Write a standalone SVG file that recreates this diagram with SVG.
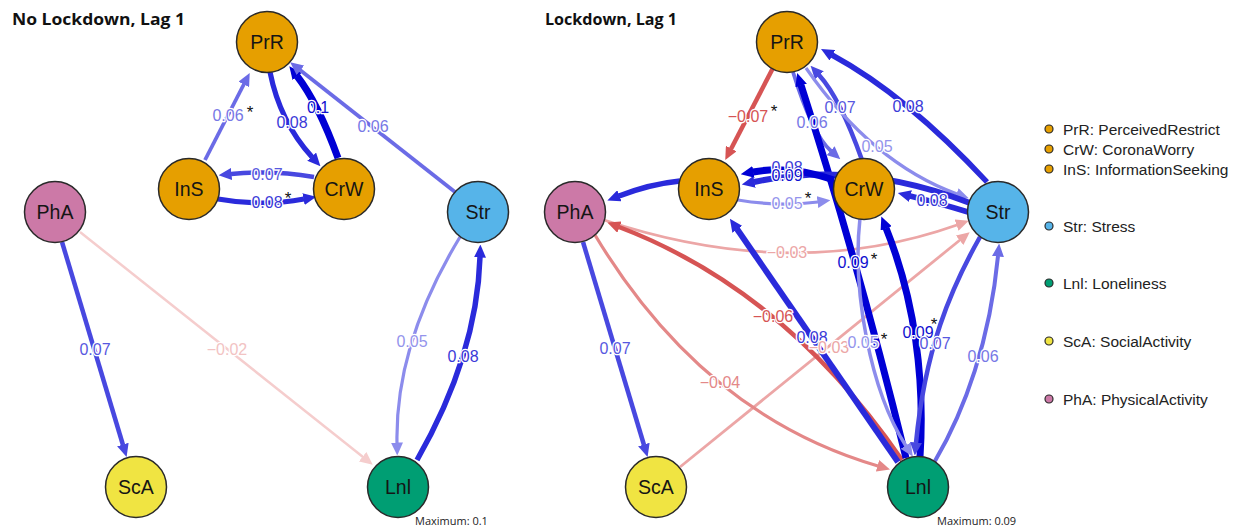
<svg xmlns="http://www.w3.org/2000/svg" width="1244" height="529" viewBox="0 0 1244 529">
<defs>
<style>
.e{fill:none;stroke-linecap:butt}
.b1{stroke:#0000D5}.b2{stroke:#2A2ADB}.b3{stroke:#4848E0}.b4{stroke:#6B6BE6}.b5{stroke:#8C8CEC}
.r1{stroke:#D65454}.r2{stroke:#E48888}.r3{stroke:#ECA6A6}.r4{stroke:#F5CDCD}
.lbl{font-family:"Liberation Sans",Arial,sans-serif;font-size:16px;text-anchor:middle;paint-order:stroke;stroke:#fff;stroke-width:2.5px;stroke-linejoin:round}
.t1{fill:#1010D0}.t2{fill:#3a3ad8}.t3{fill:#5858E0}.t4{fill:#7878E6}.t5{fill:#9494EC}
.u1{fill:#D65454}.u2{fill:#E48888}.u3{fill:#ECA6A6}.u4{fill:#F2C3C3}
.star{font-family:"Liberation Sans",Arial,sans-serif;font-size:17px;fill:#111;text-anchor:middle}
.node circle{stroke:#2a2a2a;stroke-width:1.5}
.node text{font-family:"Liberation Sans",Arial,sans-serif;font-size:19.5px;fill:#151515;text-anchor:middle}
.or{fill:#E69F00}.sb{fill:#56B4E9}.gr{fill:#009E73}.ye{fill:#F0E442}.pk{fill:#CC79A7}
.title{font-family:"Open Sans","Liberation Sans",sans-serif;font-weight:bold;font-size:16px;fill:#111}
.max{font-family:"Open Sans","Liberation Sans",sans-serif;font-size:11px;fill:#222}
.leg text{font-family:"Liberation Sans",Arial,sans-serif;font-size:15.5px;fill:#222}
.leg circle{stroke:#2a2a2a;stroke-width:1.2}
</style>
<marker id="mb1" viewBox="0 0 13 12" refX="0.5" refY="6" markerWidth="13" markerHeight="12" markerUnits="userSpaceOnUse" orient="auto"><path d="M0,0 L13,6 L0,12 z" fill="#0000D5"/></marker>
<marker id="mb2" viewBox="0 0 13 12" refX="0.5" refY="6" markerWidth="13" markerHeight="12" markerUnits="userSpaceOnUse" orient="auto"><path d="M0,0 L13,6 L0,12 z" fill="#2A2ADB"/></marker>
<marker id="mb3" viewBox="0 0 13 12" refX="0.5" refY="6" markerWidth="13" markerHeight="12" markerUnits="userSpaceOnUse" orient="auto"><path d="M0,0 L13,6 L0,12 z" fill="#4848E0"/></marker>
<marker id="mb4" viewBox="0 0 13 12" refX="0.5" refY="6" markerWidth="13" markerHeight="12" markerUnits="userSpaceOnUse" orient="auto"><path d="M0,0 L13,6 L0,12 z" fill="#6B6BE6"/></marker>
<marker id="mb5" viewBox="0 0 13 12" refX="0.5" refY="6" markerWidth="13" markerHeight="12" markerUnits="userSpaceOnUse" orient="auto"><path d="M0,0 L13,6 L0,12 z" fill="#8C8CEC"/></marker>
<marker id="mr1" viewBox="0 0 13 12" refX="0.5" refY="6" markerWidth="13" markerHeight="12" markerUnits="userSpaceOnUse" orient="auto"><path d="M0,0 L13,6 L0,12 z" fill="#D65454"/></marker>
<marker id="mr2" viewBox="0 0 13 12" refX="0.5" refY="6" markerWidth="13" markerHeight="12" markerUnits="userSpaceOnUse" orient="auto"><path d="M0,0 L13,6 L0,12 z" fill="#E48888"/></marker>
<marker id="mr3" viewBox="0 0 13 12" refX="0.5" refY="6" markerWidth="13" markerHeight="12" markerUnits="userSpaceOnUse" orient="auto"><path d="M0,0 L13,6 L0,12 z" fill="#ECA6A6"/></marker>
<marker id="mr4" viewBox="0 0 13 12" refX="0.5" refY="6" markerWidth="13" markerHeight="12" markerUnits="userSpaceOnUse" orient="auto"><path d="M0,0 L13,6 L0,12 z" fill="#F5CDCD"/></marker>
</defs>
<rect width="1244" height="529" fill="#fff"/>

<text class="title" x="12" y="25" textLength="173" lengthAdjust="spacingAndGlyphs">No Lockdown, Lag 1</text>
<text class="title" x="545" y="25" textLength="132" lengthAdjust="spacingAndGlyphs">Lockdown, Lag 1</text>

<g id="connectors">
<g id="left-edges">
<path class="e b4" stroke-width="3.8" d="M205,160 L244,84" marker-end="url(#mb4)"/>
<path class="e b2" stroke-width="5.2" d="M270,72 Q280,122 312,157" marker-end="url(#mb2)"/>
<path class="e b1" stroke-width="7" d="M338,158 Q318,103 297,76" marker-end="url(#mb1)"/>
<path class="e b4" stroke-width="3.8" d="M455,192 L300,70" marker-end="url(#mb4)"/>
<path class="e b3" stroke-width="4.5" d="M314,177 Q272,170 231,174" marker-end="url(#mb3)"/>
<path class="e b2" stroke-width="5.2" d="M218,199 Q262,207 304,199" marker-end="url(#mb2)"/>
<path class="e b3" stroke-width="4.5" d="M62,242 L123,445" marker-end="url(#mb3)"/>
<path class="e r4" stroke-width="2.5" d="M80,232 L363,457" marker-end="url(#mr4)"/>
<path class="e b5" stroke-width="3.2" d="M460,237 Q395,344 397,443" marker-end="url(#mb5)"/>
<path class="e b2" stroke-width="5.5" d="M417,460 Q477,355 480,257" marker-end="url(#mb2)"/>
</g>
<g id="right-edges">
<path class="e r1" stroke-width="4.5" d="M773,68 L731,149" marker-end="url(#mr1)"/>
<path class="e b4" stroke-width="3.8" d="M793,72 Q812,134 831,151" marker-end="url(#mb4)"/>
<path class="e b3" stroke-width="4.5" d="M862,160 Q840,98 819,75" marker-end="url(#mb3)"/>
<path class="e b2" stroke-width="5.5" d="M987,182 Q906,95 832,55" marker-end="url(#mb2)"/>
<path class="e b5" stroke-width="3.2" d="M806,68 Q872,163 957,194" marker-end="url(#mb5)"/>
<path class="e r3" stroke-width="2.8" d="M604,220 Q793,283 957,225" marker-end="url(#mr3)"/>
<path class="e r3" stroke-width="2.8" d="M680,467 L960,240" marker-end="url(#mr3)"/>
<path class="e r2" stroke-width="3.2" d="M595,235 Q703,415 878,466" marker-end="url(#mr2)"/>
<path class="e r1" stroke-width="4.5" d="M902,460 Q785,290 619,227" marker-end="url(#mr1)"/>
<path class="e b2" stroke-width="6" d="M898,462 L737,229" marker-end="url(#mb2)"/>
<path class="e b1" stroke-width="7" d="M906,458 Q857,258 801,85" marker-end="url(#mb1)"/>
<path class="e b2" stroke-width="6" d="M970,203 Q858,160 754,182" marker-end="url(#mb2)"/>
<path class="e b1" stroke-width="7" d="M834,180 Q790,165 753,172" marker-end="url(#mb1)"/>
<path class="e b5" stroke-width="3.2" d="M738,200 Q780,207 818,202" marker-end="url(#mb5)"/>
<path class="e b2" stroke-width="5.5" d="M968,212 Q935,202 910,196" marker-end="url(#mb2)"/>
<path class="e b2" stroke-width="5.5" d="M680,181 Q650,184 619,196" marker-end="url(#mb2)"/>
<path class="e b5" stroke-width="3.5" d="M860,218 C852,290 870,390 906,446" marker-end="url(#mb5)"/>
<path class="e b1" stroke-width="7" d="M920,457 C925,380 915,300 886,228" marker-end="url(#mb1)"/>
<path class="e b3" stroke-width="4.5" d="M980,237 C950,290 925,350 916,443" marker-end="url(#mb3)"/>
<path class="e b4" stroke-width="4" d="M935,461 C965,410 990,340 998,256" marker-end="url(#mb4)"/>
<path class="e b3" stroke-width="4.5" d="M583,242 L644,445" marker-end="url(#mb3)"/>
</g>
<g id="edge-labels">
<text class="lbl t4" x="228" y="121">0.06</text><text class="star" x="250" y="118">*</text>
<text class="lbl t2" x="292" y="128">0.08</text>
<text class="lbl t1" x="318" y="113">0.1</text>
<text class="lbl t4" x="373" y="132">0.06</text>
<text class="lbl t3" x="267" y="180">0.07</text>
<text class="lbl t2" x="267" y="208">0.08</text><text class="star" x="288" y="204">*</text>
<text class="lbl t3" x="95" y="355">0.07</text>
<text class="lbl u4" x="227" y="355">−0.02</text>
<text class="lbl t5" x="412" y="347">0.05</text>
<text class="lbl t2" x="463" y="362">0.08</text>

<text class="lbl u1" x="748" y="122">−0.07</text><text class="star" x="774" y="117">*</text>
<text class="lbl t4" x="812" y="128">0.06</text>
<text class="lbl t3" x="840" y="113">0.07</text>
<text class="lbl t2" x="908" y="112">0.08</text>
<text class="lbl t5" x="877" y="152">0.05</text>
<text class="lbl t2" x="787" y="173">0.08</text>
<text class="lbl t1" x="787" y="181">0.09</text>
<text class="lbl t5" x="787" y="209">0.05</text><text class="star" x="808" y="204">*</text>
<text class="lbl t2" x="932" y="206">0.08</text>
<text class="lbl u3" x="787" y="258">−0.03</text>
<text class="lbl t1" x="853" y="268">0.09</text><text class="star" x="874" y="265">*</text>
<text class="lbl u1" x="773" y="322">−0.06</text>
<text class="lbl t2" x="812" y="343">0.08</text>
<text class="lbl u3" x="829" y="353">−0.03</text>
<text class="lbl t5" x="863" y="348">0.05</text><text class="star" x="884" y="345">*</text>
<text class="lbl t1" x="918" y="338">0.09</text><text class="star" x="934" y="330">*</text>
<text class="lbl t3" x="935" y="349">0.07</text>
<text class="lbl t4" x="983" y="362">0.06</text>
<text class="lbl u2" x="720" y="388">−0.04</text>
<text class="lbl t3" x="615" y="354">0.07</text>
</g>
</g>

<g id="l-PrR" class="node"><circle class="or" cx="267" cy="42" r="30.5"/><text x="267" y="49">PrR</text></g>
<g id="l-InS" class="node"><circle class="or" cx="189" cy="189" r="30.5"/><text x="189" y="196">InS</text></g>
<g id="l-CrW" class="node"><circle class="or" cx="344" cy="189" r="30.5"/><text x="344" y="196">CrW</text></g>
<g id="l-PhA" class="node"><circle class="pk" cx="55" cy="212" r="30.5"/><text x="55" y="219">PhA</text></g>
<g id="l-Str" class="node"><circle class="sb" cx="478" cy="212" r="30.5"/><text x="478" y="219">Str</text></g>
<g id="l-ScA" class="node"><circle class="ye" cx="136" cy="487" r="30.5"/><text x="136" y="494">ScA</text></g>
<g id="l-Lnl" class="node"><circle class="gr" cx="398" cy="487" r="30.5"/><text x="398" y="494">Lnl</text></g>

<g id="r-PrR" class="node"><circle class="or" cx="787" cy="42" r="30.5"/><text x="787" y="49">PrR</text></g>
<g id="r-InS" class="node"><circle class="or" cx="709" cy="189" r="30.5"/><text x="709" y="196">InS</text></g>
<g id="r-CrW" class="node"><circle class="or" cx="864" cy="189" r="30.5"/><text x="864" y="196">CrW</text></g>
<g id="r-PhA" class="node"><circle class="pk" cx="575" cy="212" r="30.5"/><text x="575" y="219">PhA</text></g>
<g id="r-Str" class="node"><circle class="sb" cx="998" cy="212" r="30.5"/><text x="998" y="219">Str</text></g>
<g id="r-ScA" class="node"><circle class="ye" cx="656" cy="487" r="30.5"/><text x="656" y="494">ScA</text></g>
<g id="r-Lnl" class="node"><circle class="gr" cx="918" cy="487" r="30.5"/><text x="918" y="494">Lnl</text></g>

<text class="max" x="415" y="525">Maximum: 0.1</text>
<text class="max" x="937" y="525">Maximum: 0.09</text>

<g id="legend" class="leg">
<circle class="or" cx="1049" cy="129" r="4"/><text x="1063" y="134.5">PrR: PerceivedRestrict</text>
<circle class="or" cx="1049" cy="149" r="4"/><text x="1063" y="154.5">CrW: CoronaWorry</text>
<circle class="or" cx="1049" cy="169" r="4"/><text x="1063" y="174.5">InS: InformationSeeking</text>
<circle class="sb" cx="1049" cy="226" r="4"/><text x="1063" y="231.5">Str: Stress</text>
<circle class="gr" cx="1049" cy="283" r="4"/><text x="1063" y="288.5">Lnl: Loneliness</text>
<circle class="ye" cx="1049" cy="341" r="4"/><text x="1063" y="346.5">ScA: SocialActivity</text>
<circle class="pk" cx="1049" cy="399" r="4"/><text x="1063" y="404.5">PhA: PhysicalActivity</text>
</g>
</svg>
